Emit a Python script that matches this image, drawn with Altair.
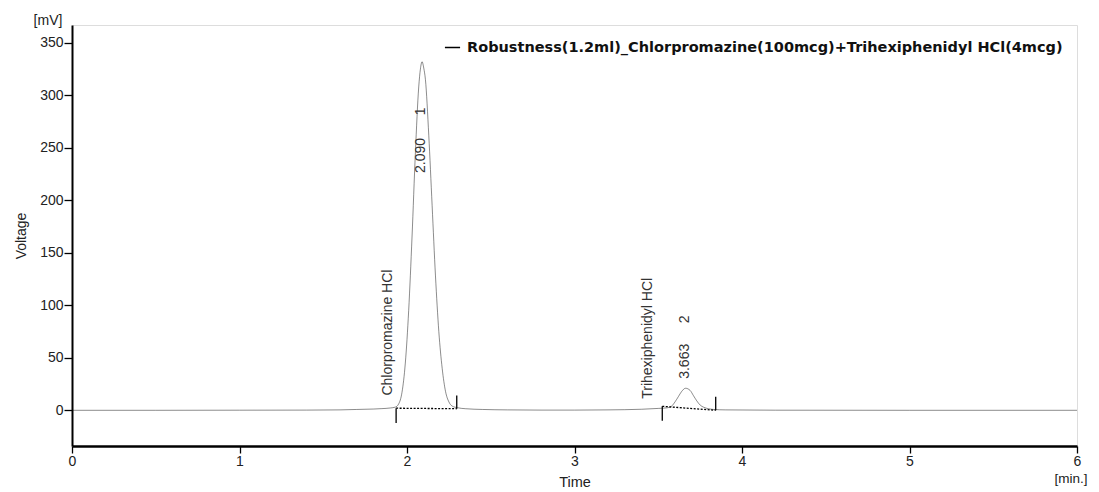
import altair as alt
import pandas as pd

series_name = "Robustness(1.2ml)_Chlorpromazine(100mcg)+Trihexiphenidyl HCl(4mcg)"

# Chromatogram trace (time in min, voltage in mV)
time_min = [0.0, 0.5, 1.0, 1.4, 1.6, 1.7, 1.8, 1.85, 1.9, 1.93, 1.95, 1.97, 1.99, 2.01, 2.03,
            2.05, 2.07, 2.08, 2.09, 2.10, 2.11, 2.13, 2.15, 2.17, 2.19, 2.21, 2.23, 2.25,
            2.27, 2.30, 2.35, 2.45, 2.6, 2.8, 3.0, 3.2, 3.4, 3.5, 3.55, 3.58, 3.60, 3.62,
            3.64, 3.663, 3.69, 3.71, 3.73, 3.75, 3.77, 3.80, 3.83, 3.9, 4.2, 5.0, 6.0]
voltage_mv = [0.0, 0.0, 0.1, 0.2, 0.4, 0.8, 1.2, 1.6, 2.2, 3.0, 6.0, 17.0, 45.0, 95.0, 165.0,
              245.0, 308.0, 325.0, 332.0, 326.0, 315.0, 262.0, 195.0, 128.0, 75.0, 40.0, 18.0, 8.0,
              4.0, 2.5, 1.5, 0.8, 0.4, 0.2, 0.2, 0.4, 1.0, 1.8, 2.3, 4.0, 8.0, 13.0,
              18.0, 21.0, 19.0, 14.0, 9.0, 5.0, 3.0, 1.5, 0.8, 0.4, 0.1, 0.0, 0.0]

# Integration baselines (dotted)
base_peak = ["1", "1", "2", "2"]
base_time = [1.935, 2.297, 3.524, 3.843]
base_volt = [2.0, 1.5, 3.8, 0.0]

# Start/end markers of integration
mark_time = [1.935, 2.297, 3.524, 3.843]
mark_from = [2.0, 1.5, 3.8, 0.0]
mark_to = [-12.0, 14.0, -10.0, 13.0]

# Peak annotations (rotated)
ann_text = ["Chlorpromazine HCl", "2.090", "1", "Trihexiphenidyl HCl", "3.663", "2"]
ann_time = [1.887, 2.083, 2.083, 3.439, 3.661, 3.661]
ann_volt = [14.0, 226.0, 281.0, 11.0, 30.0, 83.0]

y_ticks = [0, 50, 100, 150, 200, 250, 300, 350]
x_ticks = [0, 1, 2, 3, 4, 5, 6]
unit_labels = ["[mV]", "[min.]"]

trace = pd.DataFrame({"t": time_min, "v": voltage_mv, "s": series_name})
base = pd.DataFrame({"p": base_peak, "t": base_time, "v": base_volt})
marks = pd.DataFrame({"t": mark_time, "v": mark_from, "v2": mark_to})
ann = pd.DataFrame({"label": ann_text, "t": ann_time, "v": ann_volt})

FONT = "Liberation Sans"

xs = alt.Scale(domain=[0, 6], nice=False)
ys = alt.Scale(domain=[-34, 367], nice=False)

x_axis = alt.Axis(values=x_ticks, title="Time", grid=False, format="d", labelFlush=False,
                  domainWidth=2.5, domainColor="#000", tickColor="#000", tickSize=7, tickWidth=1.3,
                  labelFontSize=14, labelColor="#222", labelPadding=1, labelFont=FONT,
                  titleFontSize=14.5, titleFontWeight="normal", titleColor="#222", titlePadding=7,
                  titleFont=FONT)
y_axis = alt.Axis(values=y_ticks, title="Voltage", grid=False, labelFlush=False,
                  domainWidth=2, domainColor="#000", tickColor="#000", tickSize=8, tickWidth=1.3,
                  labelFontSize=14, labelColor="#222", labelPadding=1, labelFont=FONT,
                  titleFontSize=14, titleFontWeight="normal", titleColor="#222", titlePadding=11,
                  titleFont=FONT)

line = alt.Chart(trace).mark_line(strokeWidth=1, opacity=0.45, interpolate="monotone").encode(
    x=alt.X("t:Q", scale=xs, axis=x_axis),
    y=alt.Y("v:Q", scale=ys, axis=y_axis),
    color=alt.Color("s:N", scale=alt.Scale(range=["#000000"]),
                    legend=alt.Legend(title=None, orient="top-right", offset=14, padding=0,
                                      symbolType="stroke", symbolSize=230, symbolStrokeWidth=1.5,
                                      symbolOpacity=1, labelFontSize=14.5, labelFontWeight="bold",
                                      labelFont="DejaVu Sans",
                                      labelColor="#111", labelLimit=0, labelOffset=6)),
)

dotted = alt.Chart(base).mark_line(strokeDash=[2, 1.5], strokeWidth=1.3, color="#000").encode(
    x=alt.X("t:Q", scale=xs), y=alt.Y("v:Q", scale=ys), detail="p:N"
)

ticks = alt.Chart(marks).mark_rule(color="#000", strokeWidth=1.3).encode(
    x=alt.X("t:Q", scale=xs), y=alt.Y("v:Q", scale=ys), y2="v2:Q"
)

labels = alt.Chart(ann).mark_text(angle=270, align="left", baseline="middle",
                                  fontSize=14, color="#333", font=FONT).encode(
    x=alt.X("t:Q", scale=xs), y=alt.Y("v:Q", scale=ys), text="label:N"
)

units = pd.DataFrame({"u": unit_labels})
unit_y = alt.Chart(units.iloc[[0]]).mark_text(fontSize=14, color="#222", baseline="middle",
                                              font=FONT).encode(
    x=alt.value(-24), y=alt.value(-4), text="u:N")
unit_x = alt.Chart(units.iloc[[1]]).mark_text(fontSize=13.5, color="#222", baseline="middle",
                                              font=FONT).encode(
    x=alt.value(999), y=alt.value(454), text="u:N")

chart = alt.layer(line, dotted, ticks, labels, unit_y, unit_x).properties(
    width=1005, height=421,
    autosize=alt.AutoSizeParams(type="none"),
    padding={"left": 64, "top": 17, "right": 14, "bottom": 46},
).configure_view(stroke="#000", strokeWidth=1).configure(font=FONT)

chart.save("out.html", embed_options={"renderer": "svg", "actions": False})
